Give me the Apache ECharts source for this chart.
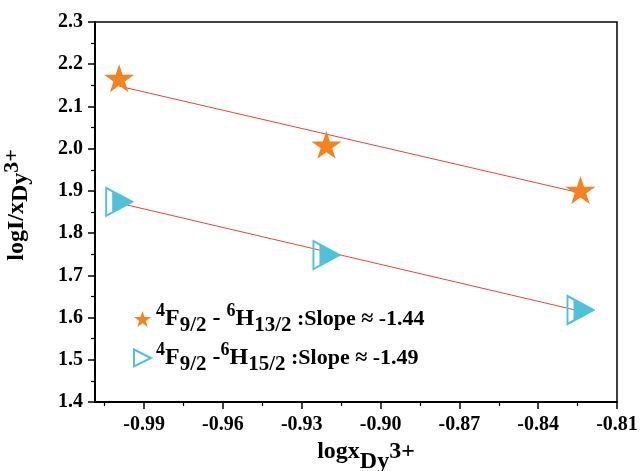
<!DOCTYPE html>
<html>
<head>
<meta charset="utf-8">
<script src="https://cdn.jsdelivr.net/npm/echarts@6/dist/echarts.min.js"></script>
<style>
html,body{margin:0;padding:0;background:#fff;}
#chart{width:640px;height:471px;}
</style>
</head>
<body>
<div id="chart"></div>
<script>
// ---- data ----
var xValues = [-0.9995, -0.9206, -0.8239];
var starValues = [2.167, 2.009, 1.902];
var triValues = [1.874, 1.748, 1.618];
// fitted line end points (x, y)
var starFitX = [-0.9995, -0.8239];
var starFitY = [2.148, 1.895];
var triFitX = [-0.9995, -0.8239];
var triFitY = [1.871, 1.615];
// ticks
var xTickLabels = [-0.99, -0.96, -0.93, -0.90, -0.87, -0.84, -0.81];
var xMinorTicks = [-1.005, -0.975, -0.945, -0.915, -0.885, -0.855, -0.825];
var yTickLabels = [1.4, 1.5, 1.6, 1.7, 1.8, 1.9, 2.0, 2.1, 2.2, 2.3];
var legendNames = ['star', 'tri'];
var slopes = ['-1.44', '-1.49'];

var FONT = '"Liberation Serif", "Times New Roman", serif';
var ORANGE = '#F5821F';
var CYAN = '#4CC3D9';
var RED = '#E8453C';

function pairs(xs, ys) { return xs.map(function (x, i) { return [x, ys[i]]; }); }

var starPath = 'path://M50,0 L61.2,34.5 L97.6,34.5 L68.2,55.9 L79.4,90.5 L50,69.1 L20.6,90.5 L31.8,55.9 L2.4,34.5 L38.8,34.5 Z';
var triPath = 'path://M0,0 L100,50 L0,100 Z';
var triFillPath = 'path://M0,0 L100,50 L0,100 Z';

var chart = echarts.init(document.getElementById('chart'));
var option = {
  backgroundColor: '#fff',
  animation: false,
  grid: { left: 95, right: 23, top: 22, bottom: 69, show: true, borderColor: '#000', borderWidth: 1.5,
    backgroundColor: 'transparent', containLabel: false, outerBoundsMode: 'none' },
  xAxis: [{
    type: 'value', min: -1.0087, max: -0.81,
    axisLine: { show: true, onZero: false, lineStyle: { color: '#000', width: 2 } },
    axisTick: { show: true, inside: false, length: 7, lineStyle: { color: '#000', width: 1.5 }, customValues: xTickLabels },
    axisLabel: { customValues: xTickLabels, margin: 13, color: '#000', fontFamily: FONT, fontWeight: 'bold', fontSize: 20,
      formatter: function (v) { return v.toFixed(2); } },
    splitLine: { show: false },
    name: '{n|logx}{sub|Dy}{n|3+}', nameLocation: 'middle', nameGap: 38,
    nameTextStyle: { padding: [0, 0, 0, 20], rich: {
      n: { fontFamily: FONT, fontWeight: 'bold', fontSize: 24, color: '#000', verticalAlign: 'top', lineHeight: 26 },
      sub: { fontFamily: FONT, fontWeight: 'bold', fontSize: 24, color: '#000', verticalAlign: 'bottom', lineHeight: 34 }
    } }
  }, {
    type: 'value', min: -1.0087, max: -0.81, position: 'bottom',
    axisLine: { show: false },
    axisTick: { show: true, length: 4, lineStyle: { color: '#000', width: 1.2 }, customValues: xMinorTicks },
    axisLabel: { show: false },
    splitLine: { show: false }
  }],
  yAxis: {
    type: 'value', min: 1.4, max: 2.3, interval: 0.1,
    axisLine: { show: true, onZero: false, lineStyle: { color: '#000', width: 2 } },
    axisTick: { show: true, length: 7, lineStyle: { color: '#000', width: 1.5 } },
    minorTick: { show: true, splitNumber: 2, length: 4, lineStyle: { color: '#000', width: 1.2 } },
    axisLabel: { margin: 12, color: '#000', fontFamily: FONT, fontWeight: 'bold', fontSize: 20,
      formatter: function (v) { return v.toFixed(1); } },
    splitLine: { show: false },
    name: '{n|logI/x}{sub|Dy}{sup|3+}', nameLocation: 'middle', nameGap: 62, nameRotate: 90,
    nameTextStyle: { padding: [0, 0, 0, 14], rich: {
      n: { fontFamily: FONT, fontWeight: 'bold', fontSize: 24, color: '#000', verticalAlign: 'middle', lineHeight: 32 },
      sub: { fontFamily: FONT, fontWeight: 'bold', fontSize: 24, color: '#000', verticalAlign: 'bottom', lineHeight: 32 },
      sup: { fontFamily: FONT, fontWeight: 'bold', fontSize: 22, color: '#000', verticalAlign: 'top', lineHeight: 32 }
    } }
  },
  legend: {
    orient: 'vertical', left: 128, top: 297, itemGap: 5,
    itemWidth: 17, itemHeight: 17,
    data: legendNames,
    formatter: function (name) {
      if (name === 'star') {
        return '{sup|4}{b|F}{sub|9/2}{b| - }{sup|6}{b|H}{sub|13/2}{c| :Slope ≈ ' + slopes[0] + '}';
      }
      return '{sup|4}{b|F}{sub|9/2}{b| -}{sup|6}{b|H}{sub|15/2}{c| :Slope ≈ ' + slopes[1] + '}';
    },
    textStyle: {
      rich: {
        b: { fontFamily: FONT, fontWeight: 'bold', fontSize: 24, color: '#000', lineHeight: 34, verticalAlign: 'middle' },
        c: { fontFamily: FONT, fontWeight: 'bold', fontSize: 22, color: '#000', lineHeight: 34, verticalAlign: 'middle' },
        sup: { fontFamily: FONT, fontWeight: 'bold', fontSize: 18, color: '#000', lineHeight: 34, verticalAlign: 'top' },
        sub: { fontFamily: FONT, fontWeight: 'bold', fontSize: 21, color: '#000', lineHeight: 34, verticalAlign: 'bottom' }
      }
    }
  },
  series: [
    { name: 'starFit', type: 'line', data: pairs(starFitX, starFitY), symbol: 'none',
      lineStyle: { color: RED, width: 1 }, z: 1, silent: true },
    { name: 'triFit', type: 'line', data: pairs(triFitX, triFitY), symbol: 'none',
      lineStyle: { color: RED, width: 1 }, z: 1, silent: true },
    { name: 'star', type: 'scatter', data: pairs(xValues, starValues), symbol: starPath, symbolSize: [30, 28],
      itemStyle: { color: ORANGE, opacity: 1 }, z: 3 },
    { name: 'tri', type: 'scatter', data: pairs(xValues, triValues), symbol: triPath, symbolSize: [26, 28],
      itemStyle: { color: 'rgba(255,255,255,0)', borderColor: CYAN, borderWidth: 2, opacity: 1 }, z: 3 },
    { name: 'triFill', type: 'scatter', data: pairs(xValues, triValues), symbol: triFillPath, symbolSize: [20, 21.5],
      symbolOffset: [3, 0], itemStyle: { color: CYAN, opacity: 1 }, z: 4 }
  ]
};
chart.setOption(option);
</script>
</body>
</html>
